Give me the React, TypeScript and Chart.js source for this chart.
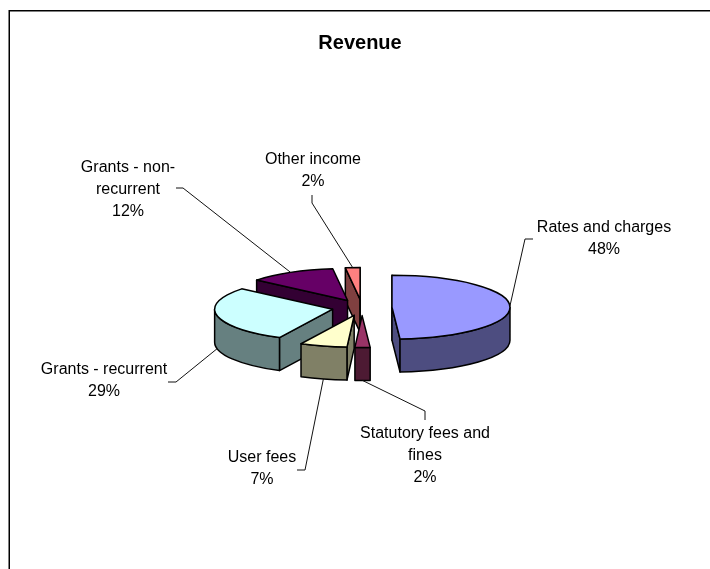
import React, { useEffect, useRef } from "react";
import { Chart, registerables } from "chart.js";

Chart.register(...registerables);

const CATEGORIES = ["Rates and charges", "Statutory fees and fines", "User fees", "Grants - recurrent", "Grants - non-recurrent", "Other income"];
const PERCENTS = [48, 2, 7, 29, 12, 2];
const TOP_COLORS = ["#9999FF", "#993366", "#FFFFCC", "#CCFFFF", "#660066", "#FF8080"];
const SIDE_COLORS = ["#4D4D80", "#4D1A33", "#808066", "#668080", "#330033", "#804040"];
const LABEL_LINES = [
  ["Rates and charges"],
  ["Statutory fees and", "fines"],
  ["User fees"],
  ["Grants - recurrent"],
  ["Grants - non-", "recurrent"],
  ["Other income"],
];
// Layout of the callouts: [centre x, first line middle y]
const LABEL_POS = [
  [604, 228],
  [425, 434],
  [262, 458],
  [104, 370],
  [128, 168],
  [313, 160],
];
// Leader polyline outer points (text end, elbow)
const LEADER_POINTS = [
  [[533, 239], [525, 239]],
  [[425, 420], [425, 411]],
  [[297, 470], [305, 470]],
  [[168, 382], [176, 382]],
  [[176, 188], [183, 188]],
  [[312, 195], [312, 203]],
];

const TILT = 0.27;
const DEPTH = 33;
const RADIUS = 118;
const EXPLODE = 120; // Chart.js moves an arc by offset / 4
const SHIFT_X = 2;
const FRONT_WARP = (3.5 * Math.PI) / 180;
const FONT = '"Liberation Sans", Arial, sans-serif';

const warp = (a: number) => {
  const c = a + Math.PI / 2;
  return a + FRONT_WARP * Math.pow(Math.max(0, Math.cos(c - Math.PI)), 8);
};

const piePlugin = {
  id: "pie3d",
  beforeDraw(chart: any) {
    const ctx = chart.ctx;
    ctx.save();
    ctx.fillStyle = "#fff";
    ctx.fillRect(0, 0, chart.width, chart.height);
    ctx.strokeStyle = "#000";
    ctx.lineWidth = 1.5;
    ctx.beginPath();
    ctx.moveTo(9.25, chart.height);
    ctx.lineTo(9.25, 10.75);
    ctx.lineTo(chart.width, 10.75);
    ctx.stroke();
    ctx.restore();
  },
  beforeDatasetsDraw(chart: any) {
    const ctx = chart.ctx;
    const arcs = chart.getDatasetMeta(0).data;
    const geo = arcs.map((arc: any, i: number) => {
      const a = warp(arc.startAngle);
      const b = warp(arc.endAngle);
      const mid = (a + b) / 2;
      const off = (arc.options.offset || 0) / 4;
      const r = arc.outerRadius;
      return {
        i, a, b, mid, r,
        x: arc.x + SHIFT_X + Math.cos(mid) * off,
        y: arc.y + Math.sin(mid) * off * TILT,
      };
    });

    ctx.save();
    ctx.lineJoin = "round";
    ctx.lineWidth = 1.5;
    ctx.strokeStyle = "#000";

    const order = [...geo].sort((p: any, q: any) => Math.sin(p.mid) - Math.sin(q.mid));
    for (const g of order) {
      const rx = g.r;
      const ry = g.r * TILT;
      const pt = (t: number) => [g.x + Math.cos(t) * rx, g.y + Math.sin(t) * ry];
      const wall = (t: number) => {
        const [px, py] = pt(t);
        ctx.beginPath();
        ctx.moveTo(g.x, g.y);
        ctx.lineTo(px, py);
        ctx.lineTo(px, py + DEPTH);
        ctx.lineTo(g.x, g.y + DEPTH);
        ctx.closePath();
        ctx.fillStyle = SIDE_COLORS[g.i];
        ctx.fill();
        ctx.stroke();
      };
      const eps = 1e-6;
      if (Math.cos(g.a) <= eps) wall(g.a);
      if (Math.cos(g.b) >= -eps) wall(g.b);

      const from = Math.max(g.a, 0);
      const to = Math.min(g.b, Math.PI);
      if (to > from) {
        ctx.beginPath();
        ctx.ellipse(g.x, g.y, rx, ry, 0, from, to);
        ctx.ellipse(g.x, g.y + DEPTH, rx, ry, 0, to, from, true);
        ctx.closePath();
        ctx.fillStyle = SIDE_COLORS[g.i];
        ctx.fill();
        ctx.stroke();
      }

      ctx.beginPath();
      ctx.moveTo(g.x, g.y);
      ctx.ellipse(g.x, g.y, rx, ry, 0, g.a, g.b);
      ctx.closePath();
      ctx.fillStyle = TOP_COLORS[g.i];
      ctx.fill();
      ctx.stroke();
    }

    // Callouts
    ctx.lineWidth = 1;
    ctx.strokeStyle = "#111";
    ctx.fillStyle = "#000";
    ctx.font = `16px ${FONT}`;
    ctx.textAlign = "center";
    ctx.textBaseline = "middle";
    for (const g of geo) {
      const ax = g.x + Math.cos(g.mid) * g.r;
      const ay = g.y + Math.sin(g.mid) * g.r * TILT + (Math.sin(g.mid) > 0 ? DEPTH : 0);
      const [p0, p1] = LEADER_POINTS[g.i];
      ctx.beginPath();
      ctx.moveTo(p0[0], p0[1]);
      ctx.lineTo(p1[0], p1[1]);
      ctx.lineTo(ax, ay);
      ctx.stroke();
      const [lx, ly] = LABEL_POS[g.i];
      const lines = [...LABEL_LINES[g.i], `${PERCENTS[g.i]}%`];
      lines.forEach((t, k) => ctx.fillText(t, lx, ly + k * 22));
    }
    ctx.restore();
    return false;
  },
};

export default function App() {
  const ref = useRef<HTMLCanvasElement>(null);
  useEffect(() => {
    const chart = new Chart(ref.current as HTMLCanvasElement, {
      type: "pie",
      data: {
        labels: CATEGORIES,
        datasets: [
          {
            data: PERCENTS,
            backgroundColor: TOP_COLORS,
            radius: RADIUS,
            offset: EXPLODE,
          } as any,
        ],
      },
      options: {
        animation: false,
        responsive: false,
        layout: { padding: { left: 10, right: 0, top: 10, bottom: 18 } },
        plugins: {
          legend: { display: false },
          tooltip: { enabled: false },
          title: {
            display: true,
            text: "Revenue",
            color: "#000",
            font: { family: FONT, size: 20, weight: "bold" },
            padding: { top: 21, bottom: 9 },
          },
        },
      } as any,
      plugins: [piePlugin],
    });
    return () => chart.destroy();
  }, []);
  return (
    <div style={{ position: "fixed", left: 0, top: 0, width: 710, height: 569, overflow: "hidden" }}>
      <canvas ref={ref} width={710} height={569} style={{ display: "block" }} />
    </div>
  );
}
